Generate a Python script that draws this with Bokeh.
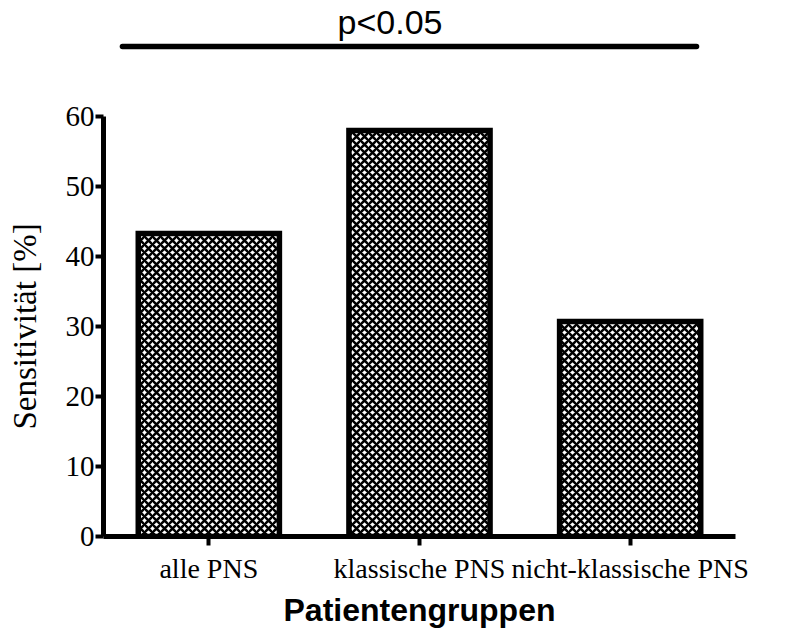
from bokeh.plotting import figure
from bokeh.models import Range1d, FixedTicker, ColumnDataSource
from bokeh.layouts import column
from bokeh.core.properties import value
from bokeh.embed import file_html
from bokeh.resources import INLINE

categories = ["alle PNS", "klassische PNS", "nicht-klassische PNS"]
sensitivity = [43.3, 58.0, 30.7]
y_ticks = [0, 10, 20, 30, 40, 50, 60]
sig_text = "p<0.05"
sig_level = 70.0
y_title = "Sensitivität [%]"
x_title = "Patientengruppen"

xpos = list(range(len(categories)))
x_range = Range1d(-0.5, 2.5)

# ---- top strip with the significance bar (same x scale, 7 px per y unit)
top = figure(width=772, height=100, frame_width=632, frame_height=100,
             min_border_left=103, min_border_right=37,
             min_border_top=0, min_border_bottom=0,
             x_range=x_range, y_range=Range1d(62.2857, 76.5714),
             output_backend="svg", toolbar_location=None)
top.axis.visible = False
top.grid.visible = False
top.outline_line_color = None
top.line(x=[-0.41, 2.315], y=[sig_level, sig_level], line_width=5.5,
         line_color="black", line_cap="round")
top.text(x=[0.86], y=[sig_level + 3.55], text=[sig_text],
         text_font=value("Liberation Sans"), text_font_size="34px",
         text_align="center", text_baseline="alphabetic", text_color="black")

# ---- main bar chart
p = figure(width=772, height=528, frame_width=632, frame_height=420,
           min_border_left=103, min_border_right=37,
           min_border_top=16, min_border_bottom=92,
           x_range=x_range, y_range=Range1d(0, 60),
           output_backend="svg", toolbar_location=None)
p.outline_line_color = None
p.grid.visible = False
p.background_fill_color = "white"
p.border_fill_color = "white"

src = ColumnDataSource(dict(x=xpos, top=sensitivity))
p.vbar(x="x", top="top", bottom=0, width=0.67, source=src,
       fill_color="white", line_color="black", line_width=5.5,
       line_join="miter",
       hatch_pattern="x", hatch_scale=8, hatch_weight=2.5, hatch_color="black")

xa = p.xaxis[0]
xa.ticker = FixedTicker(ticks=xpos)
xa.major_label_overrides = {i: c for i, c in enumerate(categories)}
xa.axis_line_width = 5
xa.axis_line_color = "black"
xa.major_tick_line_width = 4
xa.major_tick_out = 9
xa.major_tick_in = 0
xa.minor_tick_line_color = None
xa.major_label_text_font = "Liberation Serif"
xa.major_label_text_font_size = "28px"
xa.major_label_text_color = "black"
xa.major_label_standoff = 7
xa.axis_label = x_title
xa.axis_label_text_font = "Liberation Sans"
xa.axis_label_text_font_style = "bold"
xa.axis_label_text_font_size = "32px"
xa.axis_label_text_color = "black"
xa.axis_label_standoff = 5

ya = p.yaxis[0]
ya.ticker = FixedTicker(ticks=y_ticks)
ya.axis_line_width = 5
ya.axis_line_color = "black"
ya.major_tick_line_width = 4
ya.major_tick_out = 8
ya.major_tick_in = 0
ya.minor_tick_line_color = None
ya.major_label_text_font = "Liberation Serif"
ya.major_label_text_font_size = "29px"
ya.major_label_text_color = "black"
ya.major_label_standoff = 1
ya.axis_label = y_title
ya.axis_label_text_font = "Liberation Serif"
ya.axis_label_text_font_style = "normal"
ya.axis_label_text_font_size = "33px"
ya.axis_label_text_color = "black"
ya.axis_label_standoff = 20

layout = column(top, p, spacing=0)
open("out.html", "w").write(file_html(layout, INLINE))
